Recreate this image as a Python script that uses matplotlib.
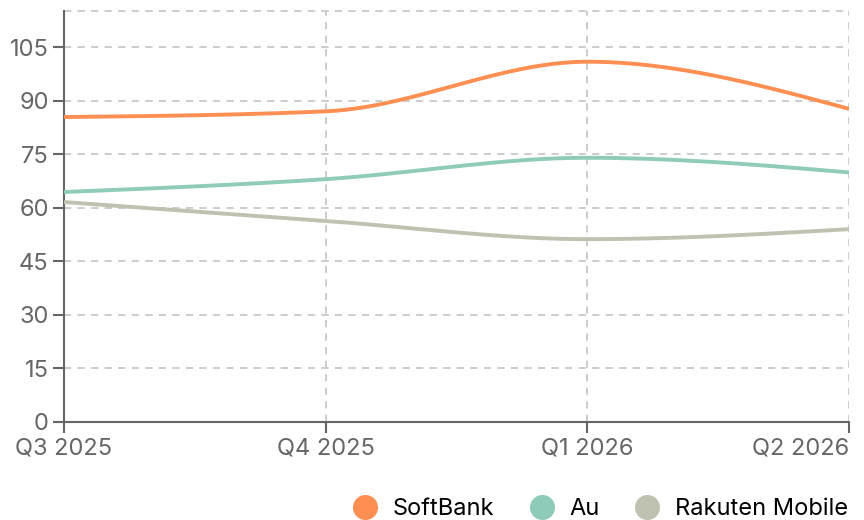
import numpy as np
import matplotlib.pyplot as plt

plt.rcParams['font.family'] = ['Inter', 'DejaVu Sans']

quarters = ['Q3 2025', 'Q4 2025', 'Q1 2026', 'Q2 2026']
softbank = [85.4, 87.0, 100.9, 87.7]
au = [64.4, 68.0, 74.0, 69.9]
rakuten = [61.6, 56.3, 51.2, 54.0]

series = [('SoftBank', softbank, '#fe8f52'),
          ('Au', au, '#8ecbb8'),
          ('Rakuten Mobile', rakuten, '#bfc2b0')]


def monotone(x, y, n=60):
    # monotone cubic (like d3 curveMonotoneX)
    x = np.asarray(x, float); y = np.asarray(y, float)
    h = np.diff(x); s = np.diff(y) / h
    m = np.zeros(len(x))
    for i in range(1, len(x) - 1):
        if s[i - 1] * s[i] <= 0:
            m[i] = 0
        else:
            p = (s[i - 1] * h[i] + s[i] * h[i - 1]) / (h[i - 1] + h[i])
            m[i] = (np.sign(s[i - 1]) + np.sign(s[i])) * min(abs(s[i - 1]), abs(s[i]), 0.5 * abs(p))
    m[0] = (3 * s[0] - m[1]) / 2 if len(x) > 2 else s[0]
    m[-1] = (3 * s[-1] - m[-2]) / 2 if len(x) > 2 else s[-1]
    xs, ys = [], []
    for i in range(len(x) - 1):
        t = np.linspace(0, 1, n)
        h00 = 2 * t**3 - 3 * t**2 + 1
        h10 = t**3 - 2 * t**2 + t
        h01 = -2 * t**3 + 3 * t**2
        h11 = t**3 - t**2
        xs.append(x[i] + t * h[i])
        ys.append(h00 * y[i] + h10 * h[i] * m[i] + h01 * y[i + 1] + h11 * h[i] * m[i + 1])
    return np.concatenate(xs), np.concatenate(ys)


fig = plt.figure(figsize=(8.64, 5.2), dpi=100)
ax = fig.add_axes([64 / 864, 1 - 422 / 520, (849 - 64) / 864, (422 - 11) / 520])

xpos = np.arange(len(quarters))
for name, vals, col in series:
    sx, sy = monotone(xpos, vals)
    ax.plot(sx, sy, color=col, lw=2.8, solid_capstyle='butt', zorder=3)

ax.set_xlim(0, 3)
ax.set_ylim(0, 115.1)
ax.set_yticks(np.arange(0, 106, 15))
ax.set_xticks(xpos)
ax.set_xticklabels(quarters)
ax.grid(True, color='#c8c8c8', ls=(0, (4, 3.5)), lw=1.3)
ax.axhline(115.1, color='#c8c8c8', ls=(0, (4, 3.5)), lw=1.3, clip_on=False)

for sp in ['top', 'right']:
    ax.spines[sp].set_visible(False)
for sp in ['left', 'bottom']:
    ax.spines[sp].set_color('#666666')
    ax.spines[sp].set_linewidth(1.5)
ax.tick_params(colors='#666666', labelcolor='#666666', labelsize=17, length=8, width=1.5, pad=3)
labels = ax.get_xticklabels()
labels[-1].set_ha('right')

handles = [plt.Line2D([], [], ls='', marker='o', ms=17, color=c, label=n) for n, v, c in series]
fig.legend(handles=handles, loc='center right', bbox_to_anchor=(848 / 864, 1 - 509 / 520),
           ncol=3, frameon=False, fontsize=17, handlelength=1.0, handletextpad=0.68,
           columnspacing=1.5, borderaxespad=0, borderpad=0)

fig.savefig('out.png', dpi=100)
